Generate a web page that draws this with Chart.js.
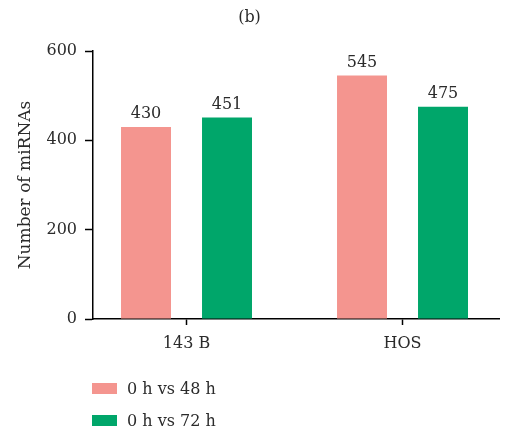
<!DOCTYPE html>
<html>
<head>
<meta charset="utf-8">
<script src="https://cdn.jsdelivr.net/npm/chart.js@4.4.1/dist/chart.umd.min.js"></script>
<style>
  html, body { margin: 0; padding: 0; background: #fff; }
  #wrap { position: relative; width: 506px; height: 434px; }
  #legend { position: absolute; left: 92px; top: 372px; font-family: "DejaVu Serif", serif; font-size: 16px; color: #2b2b2b; }
  #legend .row { display: flex; align-items: center; height: 32px; }
  #legend .box { width: 25px; height: 11px; margin-right: 10px; }
</style>
</head>
<body>
<div id="wrap">
  <canvas id="chart" width="506" height="434"></canvas>
  <div id="legend"></div>
</div>
<script>
// values
const categories = ['143 B', 'HOS'];
const seriesNames = ['0 h vs 48 h', '0 h vs 72 h'];
const values48 = [430, 545];
const values72 = [451, 475];
const yTicks = [0, 200, 400, 600];

const colors = ['#f4958f', '#00a66a'];
const textColor = '#2b2b2b';
const fontFamily = '"DejaVu Serif", serif';

function toPoints(vals) {
    return vals.map((v, i) => ({ x: i, y: v }));
}

// draws the number above each bar
const valueLabels = {
    id: 'valueLabels',
    afterDatasetsDraw(chart) {
        const ctx = chart.ctx;
        ctx.save();
        ctx.font = '16px ' + fontFamily;
        ctx.fillStyle = textColor;
        ctx.textAlign = 'center';
        ctx.textBaseline = 'alphabetic';
        chart.data.datasets.forEach((ds, di) => {
            chart.getDatasetMeta(di).data.forEach((bar, i) => {
                ctx.fillText(String(ds.data[i].y), bar.x, bar.y - 9);
            });
        });
        ctx.restore();
    }
};

const ctx = document.getElementById('chart').getContext('2d');
const chart = new Chart(ctx, {
    type: 'bar',
    data: {
        datasets: [{
            label: seriesNames[0],
            data: toPoints(values48),
            backgroundColor: colors[0]
        }, {
            label: seriesNames[1],
            data: toPoints(values72),
            backgroundColor: colors[1]
        }]
    },
    options: {
        responsive: false,
        animation: false,
        categoryPercentage: 0.75,
        barPercentage: 0.617,
        layout: { padding: { left: 0, right: 7, top: 0, bottom: 0 } },
        plugins: {
            legend: { display: false },
            tooltip: { enabled: false },
            title: {
                display: true,
                text: '(b)',
                color: textColor,
                font: { family: fontFamily, size: 16, weight: 'normal' },
                padding: { top: 8.4, bottom: 23.4 }
            }
        },
        scales: {
            x: {
                type: 'linear',
                offset: false,
                min: -0.4329,
                max: 1.4467,
                afterBuildTicks(scale) {
                    scale.ticks = categories.map((c, i) => ({ value: i }));
                },
                afterFit(scale) { scale.height = 115; },
                ticks: {
                    callback: (v) => categories[v],
                    color: textColor,
                    font: { family: fontFamily, size: 16 },
                    padding: 9,
                    maxRotation: 0
                },
                grid: {
                    offset: false,
                    drawOnChartArea: false,
                    tickLength: 6,
                    tickColor: '#000',
                    tickWidth: 1.5
                },
                border: { color: '#000', width: 1.5 }
            },
            y: {
                min: 0,
                max: 600,
                afterBuildTicks(scale) {
                    scale.ticks = yTicks.map(v => ({ value: v }));
                },
                afterFit(scale) { scale.width = 93; },
                ticks: {
                    color: textColor,
                    font: { family: fontFamily, size: 16 },
                    padding: 8
                },
                grid: {
                    drawOnChartArea: false,
                    tickLength: 8,
                    tickColor: '#000',
                    tickWidth: 1.5
                },
                border: { color: '#000', width: 1.5 },
                title: {
                    display: true,
                    text: 'Number of miRNAs',
                    color: textColor,
                    font: { family: fontFamily, size: 17 },
                    padding: { top: 15, bottom: 0 }
                }
            }
        }
    },
    plugins: [valueLabels]
});

// legend as a single column under the plot
const legend = document.getElementById('legend');
chart.data.datasets.forEach(ds => {
    const row = document.createElement('div');
    row.className = 'row';
    const box = document.createElement('span');
    box.className = 'box';
    box.style.background = ds.backgroundColor;
    const txt = document.createElement('span');
    txt.textContent = ds.label;
    row.appendChild(box);
    row.appendChild(txt);
    legend.appendChild(row);
});
</script>
</body>
</html>
